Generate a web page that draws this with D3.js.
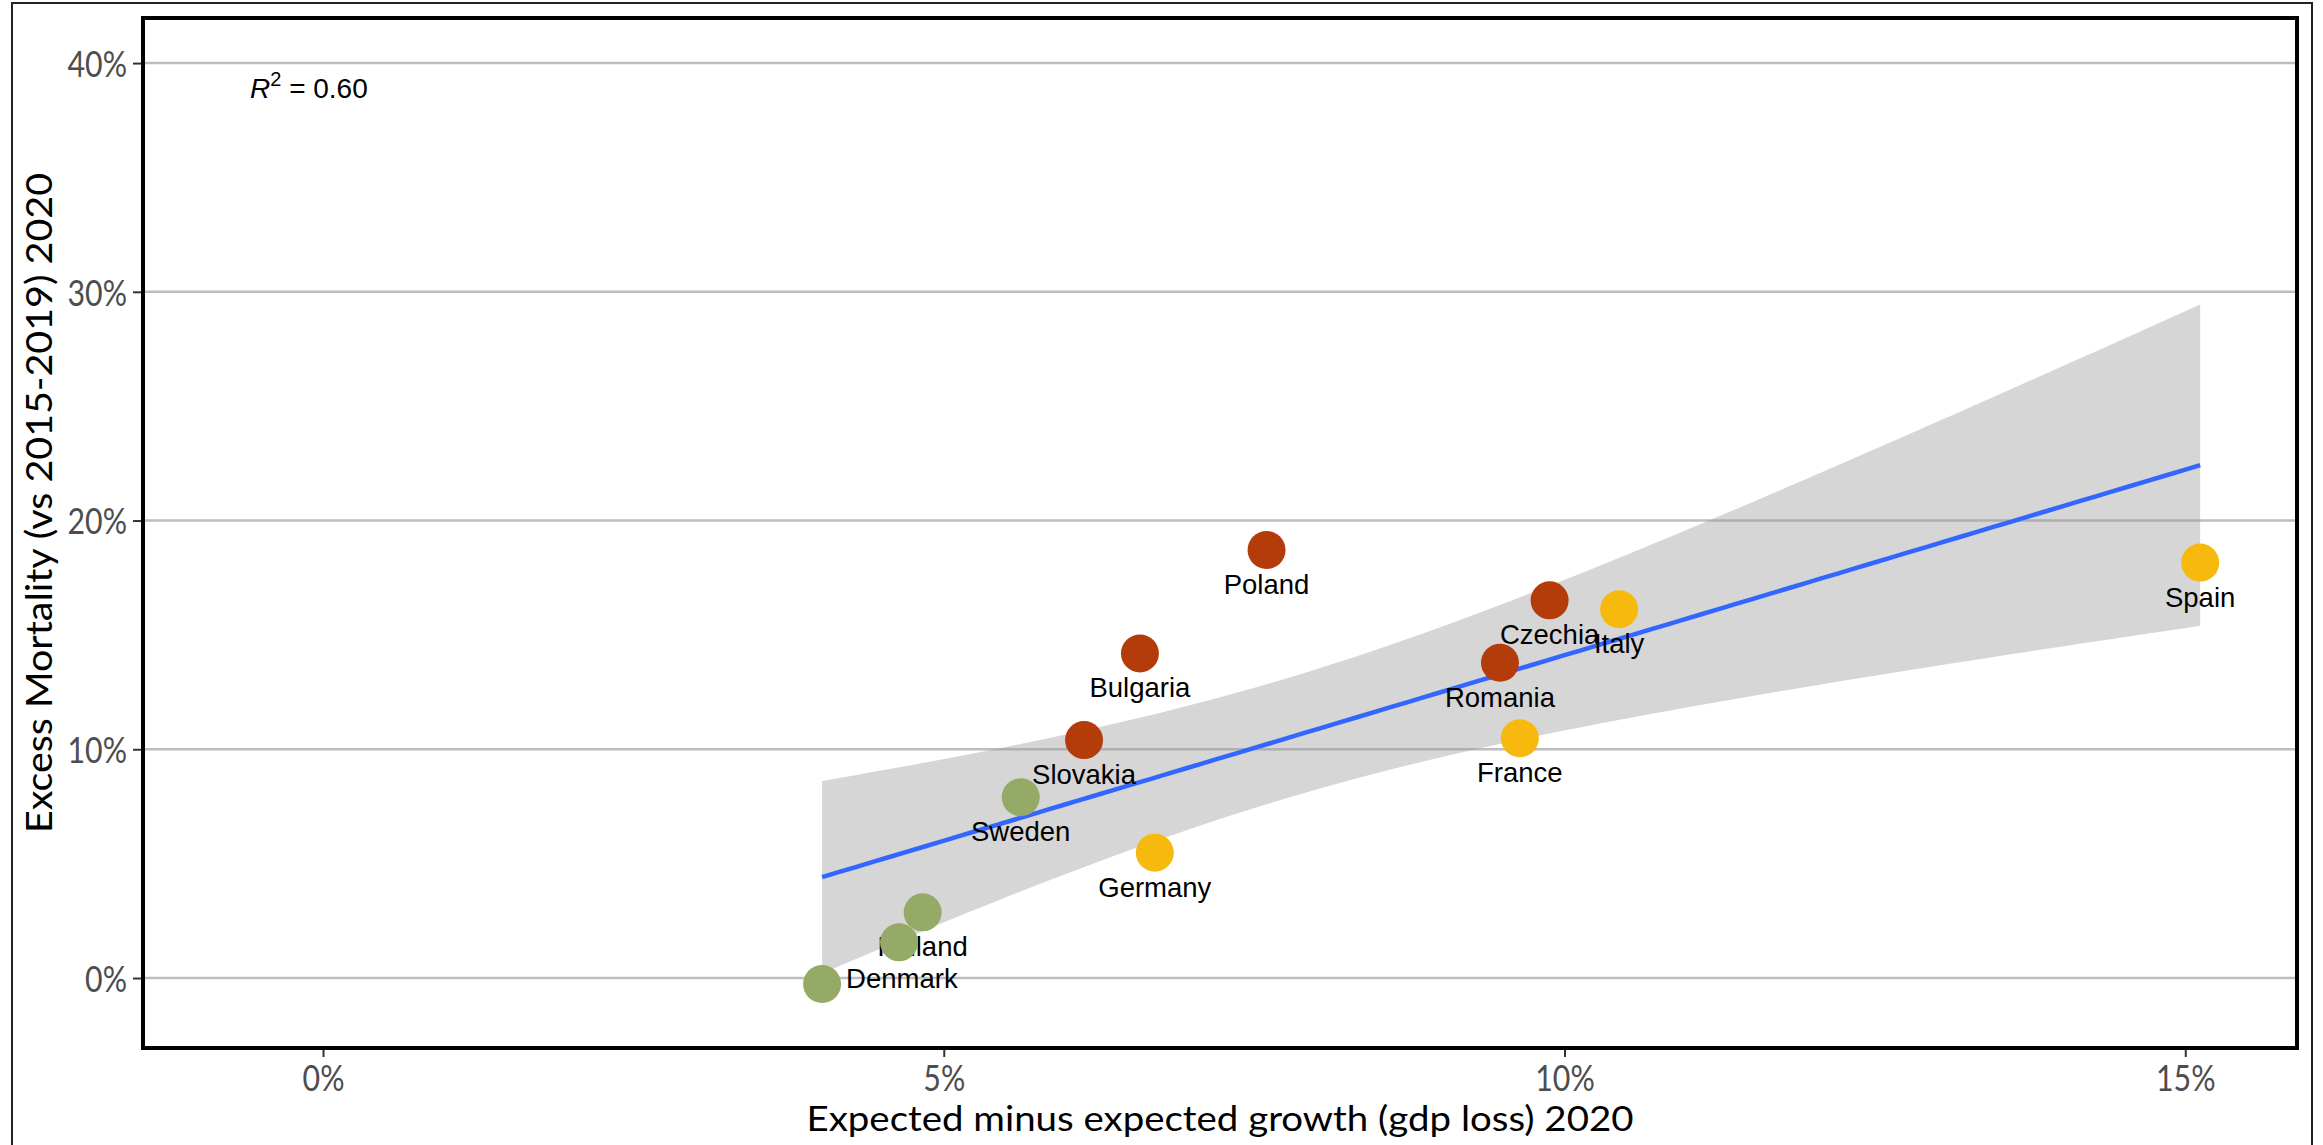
<!DOCTYPE html>
<html>
<head>
<meta charset="utf-8">
<script src="https://cdn.jsdelivr.net/npm/d3@7"></script>
<style>
  html, body { margin: 0; padding: 0; background: #fff; }
  .axis-text { font-family: "Lato", "Open Sans", sans-serif; fill: #4d4d4d; }
  .title { font-family: "Lato", "Open Sans", sans-serif; fill: #000; }
  .lab { font-family: "Liberation Sans", Arial, sans-serif; fill: #000; }
</style>
</head>
<body>
<div id="chart"></div>
<script>
// values (percent)
const countries = ['Denmark', 'Norway', 'Finland', 'Sweden', 'Slovakia', 'Bulgaria', 'Germany',
                   'Poland', 'Romania', 'France', 'Czechia', 'Italy', 'Spain'];
const gdpLoss = [4.02, 4.64, 4.83, 5.62, 6.13, 6.58, 6.70, 7.60, 9.48, 9.64, 9.88, 10.44, 15.12];
const excessMortality = [-0.26, 1.56, 2.87, 7.90, 10.40, 14.19, 5.48, 18.71, 13.78, 10.48, 16.51, 16.12, 18.16];
const groups = ['north', 'north', 'north', 'north', 'east', 'east', 'west',
                'east', 'east', 'west', 'east', 'west', 'west'];
const xTicks = [0, 5, 10, 15];
const yTicks = [0, 10, 20, 30, 40];

const hiddenLabels = ['Norway'];
const rightLabels = ['Denmark'];
const groupColors = { north: '#95aa66', east: '#b43c0a', west: '#f8b90f' };

const width = 2323, height = 1145;
const panel = { left: 143, right: 2297, top: 18, bottom: 1048 };

const data = countries.map((c, i) => ({ name: c, x: gdpLoss[i], y: excessMortality[i], g: groups[i] }));

const svg = d3.select('#chart').append('svg')
  .attr('width', width)
  .attr('height', height);

const xScale = d3.scaleLinear().domain([-1.45, 15.9]).range([panel.left, panel.right]);
const yScale = d3.scaleLinear().domain([-3.06, 41.97]).range([panel.bottom, panel.top]);

// outer frame (figure border)
svg.append('rect')
  .attr('x', 12).attr('y', 3)
  .attr('width', 2300).attr('height', 1200)
  .attr('fill', 'none').attr('stroke', '#222').attr('stroke-width', 2);

// gridlines
svg.append('g')
  .selectAll('line')
  .data(yTicks)
  .enter().append('line')
  .attr('x1', panel.left).attr('x2', panel.right)
  .attr('y1', d => yScale(d)).attr('y2', d => yScale(d))
  .attr('stroke', '#bebebe').attr('stroke-width', 2.5);

// linear fit + 95% band (lm, like geom_smooth)
const n = data.length;
const mx = d3.mean(data, d => d.x), my = d3.mean(data, d => d.y);
const sxx = d3.sum(data, d => (d.x - mx) ** 2);
const sxy = d3.sum(data, d => (d.x - mx) * (d.y - my));
const syy = d3.sum(data, d => (d.y - my) ** 2);
const slope = sxy / sxx, intercept = my - slope * mx;
const sse = d3.sum(data, d => (d.y - intercept - slope * d.x) ** 2);
const s = Math.sqrt(sse / (n - 2));
const tCrit = 2.201; // t(0.975, df = 11)
const r2 = 1 - sse / syy;

const xMin = d3.min(data, d => d.x), xMax = d3.max(data, d => d.x);
const fit = d3.range(81).map(i => {
  const x = xMin + (xMax - xMin) * i / 80;
  const yhat = intercept + slope * x;
  const se = s * Math.sqrt(1 / n + (x - mx) ** 2 / sxx);
  return { x, yhat, lo: yhat - tCrit * se, hi: yhat + tCrit * se };
});

svg.append('path')
  .datum(fit)
  .attr('d', d3.area().x(d => xScale(d.x)).y0(d => yScale(d.lo)).y1(d => yScale(d.hi)))
  .attr('fill', '#999999').attr('fill-opacity', 0.4);

svg.append('path')
  .datum(fit)
  .attr('d', d3.line().x(d => xScale(d.x)).y(d => yScale(d.yhat)))
  .attr('fill', 'none').attr('stroke', '#3366ff').attr('stroke-width', 4.5);

// country labels
svg.append('g')
  .selectAll('text')
  .data(data.filter(d => !hiddenLabels.includes(d.name)))
  .enter().append('text')
  .attr('class', 'lab')
  .attr('font-size', 27.5)
  .attr('x', d => rightLabels.includes(d.name) ? xScale(d.x) + 24 : xScale(d.x))
  .attr('y', d => rightLabels.includes(d.name) ? yScale(d.y) + 4 : yScale(d.y) + 44)
  .attr('text-anchor', d => rightLabels.includes(d.name) ? 'start' : 'middle')
  .text(d => d.name);

// points
svg.append('g')
  .selectAll('circle')
  .data(data)
  .enter().append('circle')
  .attr('cx', d => xScale(d.x))
  .attr('cy', d => yScale(d.y))
  .attr('r', 19)
  .attr('fill', d => groupColors[d.g]);

// R^2 annotation
const r2Text = svg.append('text')
  .attr('class', 'lab')
  .attr('x', 250).attr('y', 98)
  .attr('font-size', 28);
r2Text.append('tspan').attr('font-style', 'italic').text('R');
r2Text.append('tspan').attr('font-size', 20).attr('dy', -12).text('2');
r2Text.append('tspan').attr('dy', 12).text(' = ' + r2.toFixed(2));

// panel border
svg.append('rect')
  .attr('x', panel.left).attr('y', panel.top)
  .attr('width', panel.right - panel.left).attr('height', panel.bottom - panel.top)
  .attr('fill', 'none').attr('stroke', '#000').attr('stroke-width', 4);

// narrower tick font, like the original
function squeeze(sel, k) {
  sel.each(function () {
    const len = this.getComputedTextLength();
    d3.select(this).attr('textLength', len * k).attr('lengthAdjust', 'spacingAndGlyphs');
  });
}

// y axis
const yAxis = svg.append('g')
  .attr('transform', 'translate(' + (panel.left - 2) + ',0)')
  .call(d3.axisLeft(yScale).tickValues(yTicks).tickSize(8).tickPadding(6).tickFormat(d => d + '%'));
yAxis.select('.domain').remove();
yAxis.selectAll('.tick line').attr('stroke', '#333').attr('stroke-width', 2);
yAxis.selectAll('.tick text').attr('class', 'axis-text').attr('font-size', 37).attr('fill', '#4d4d4d')
  .attr('dy', '0.36em')
  .call(squeeze, 0.82);

// x axis
const xAxis = svg.append('g')
  .attr('transform', 'translate(0,' + (panel.bottom + 2) + ')')
  .call(d3.axisBottom(xScale).tickValues(xTicks).tickSize(7).tickPadding(8).tickFormat(d => d + '%'));
xAxis.select('.domain').remove();
xAxis.selectAll('.tick line').attr('stroke', '#333').attr('stroke-width', 2);
xAxis.selectAll('.tick text').attr('class', 'axis-text').attr('font-size', 37).attr('fill', '#4d4d4d')
  .attr('dy', '0.71em')
  .call(squeeze, 0.82);

// axis titles
svg.append('text')
  .attr('class', 'title')
  .attr('x', (panel.left + panel.right) / 2)
  .attr('y', 1131)
  .attr('text-anchor', 'middle')
  .attr('font-size', 35)
  .attr('textLength', 827).attr('lengthAdjust', 'spacingAndGlyphs')
  .text('Expected minus expected growth (gdp loss) 2020');

svg.append('text')
  .attr('class', 'title')
  .attr('transform', 'translate(52,503) rotate(-90)')
  .attr('text-anchor', 'middle')
  .attr('font-size', 36)
  .attr('textLength', 660).attr('lengthAdjust', 'spacingAndGlyphs')
  .text('Excess Mortality (vs 2015-2019) 2020');
</script>
</body>
</html>
